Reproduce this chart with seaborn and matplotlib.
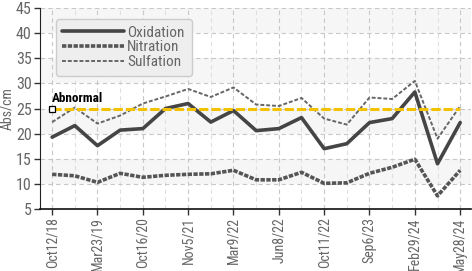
import matplotlib
matplotlib.use("Agg")
import matplotlib.pyplot as plt
import seaborn as sns
import pandas as pd

dates = ["Oct12/18", "", "Mar23/19", "", "Oct16/20", "", "Nov5/21", "", "Mar9/22", "",
         "Jun8/22", "", "Oct11/22", "", "Sep6/23", "", "Feb29/24", "", "May28/24"]
oxidation = [19.3, 21.6, 17.6, 20.7, 21.0, 25.0, 26.0, 22.3, 24.6, 20.6,
             21.0, 23.2, 17.0, 18.0, 22.2, 23.0, 28.3, 14.0, 22.2]
nitration = [11.9, 11.6, 10.3, 12.1, 11.3, 11.7, 11.9, 12.0, 12.7, 10.8,
             10.8, 12.3, 10.1, 10.2, 12.1, 13.3, 14.9, 7.6, 12.7]
sulfation = [22.3, 25.2, 22.0, 23.6, 26.0, 27.4, 28.9, 27.3, 29.2, 25.8,
             25.5, 27.1, 23.0, 21.8, 27.2, 26.9, 30.5, 19.0, 25.5]
abnormal = 25

df = pd.DataFrame({"idx": range(len(dates)), "Oxidation": oxidation,
                   "Nitration": nitration, "Sulfation": sulfation})

sns.set_style("white")
plt.rcParams["font.family"] = ["Roboto Condensed", "Archivo Narrow", "PT Sans Narrow", "DejaVu Sans"]

fig = plt.figure(figsize=(4.72, 2.71), dpi=100)
ax = fig.add_axes([0.085, 0.229, 0.913, 0.741])

# background bands
for lo in [10, 20, 30, 40]:
    ax.axhspan(lo, lo + 5, color="#f6f6f6", zorder=0, lw=0)

sns.lineplot(x="idx", y="Oxidation", data=df, ax=ax, color="#454545", lw=2.6,
             label="Oxidation", zorder=4)
sns.lineplot(x="idx", y="Nitration", data=df, ax=ax, color="#555555", lw=2.6,
             linestyle=(0, (1.2, 0.4)), label="Nitration", zorder=4)
sns.lineplot(x="idx", y="Sulfation", data=df, ax=ax, color="#666666", lw=1.4,
             linestyle=(0, (2, 1)), label="Sulfation", zorder=4)

# abnormal limit
ax.plot([0, len(dates) - 1], [abnormal, abnormal], color="#f2c200", lw=2.2,
        linestyle=(0, (3, 1)), zorder=5)
ax.plot([0], [abnormal], marker="s", ms=4, mfc="white", mec="black", mew=0.9, zorder=6)
ax.text(0, abnormal + 0.7, "Abnormal", fontsize=9.5, fontweight="bold", color="black",
        ha="left", va="bottom", zorder=6)

ax.set_xlim(-0.53, len(dates) - 0.52)
ax.set_ylim(5, 45)
ax.set_yticks(range(5, 50, 5))
major = [i for i, d in enumerate(dates) if d]
ax.set_xticks(major)
ax.set_xticklabels([dates[i] for i in major], rotation=90)
ax.set_xticks([i for i, d in enumerate(dates) if not d], minor=True)

ax.grid(which="major", color="#c8c8c8", linestyle=(0, (4, 3)), lw=0.8)
ax.grid(which="minor", axis="x", color="#e0e0e0", linestyle=(0, (4, 3)), lw=0.8)
ax.set_axisbelow(True)

for s in ["top", "right"]:
    ax.spines[s].set_visible(False)
ax.spines["left"].set_color("#222222")
ax.spines["bottom"].set_color("#111111")
ax.spines["bottom"].set_linewidth(1.2)
ax.tick_params(axis="both", which="major", length=4, width=1, color="#333333",
               labelcolor="#666666", direction="out", bottom=True, left=True, pad=2)
ax.tick_params(axis="x", labelsize=10)
ax.tick_params(axis="y", labelsize=11.5)
ax.tick_params(axis="x", which="minor", length=0)

ax.set_xlabel("")
ax.set_ylabel("Abs/cm", color="#666666", fontsize=10, labelpad=1)

leg = ax.legend(loc="upper left", bbox_to_anchor=(0.018, 0.985), frameon=True, fancybox=True,
                facecolor="#eeeeee", edgecolor="#cccccc", framealpha=1, fontsize=11,
                handlelength=4.0, handletextpad=0.25, labelspacing=0.05, borderpad=0.45)
for t in leg.get_texts():
    t.set_color("#666666")

fig.savefig("out.png", dpi=100)
